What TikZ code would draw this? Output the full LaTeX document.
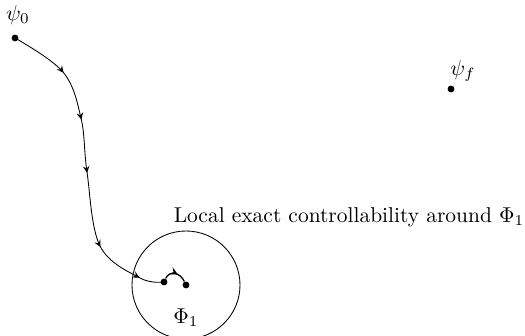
\documentclass[tikz,border=0pt]{standalone}
\usetikzlibrary{decorations.markings}

\begin{document}
\begin{tikzpicture}[x=0.466pt, y=-0.466pt, >=stealth,
    pt/.style={circle, fill, inner sep=0pt, minimum size=3.2pt},
    flow/.style={postaction={decorate}, decoration={markings,
        mark=at position 0.19 with {\arrow{stealth}},
        mark=at position 0.35 with {\arrow{stealth}},
        mark=at position 0.52 with {\arrow{stealth}},
        mark=at position 0.76 with {\arrow{stealth}},
        mark=at position 0.92 with {\arrow{stealth}}}},
    hop/.style={semithick, postaction={decorate}, decoration={markings,
        mark=at position 0.6 with {\arrow{stealth}}}}]
    \useasboundingbox (0,0) rectangle (525,336);
    % Etats
    \node[pt] (psi0) at (15,38) {};
    \node (lpsi0) at (18,15) {$\psi_0$};
    \node[pt] (psif) at (451,89) {};
    \node (lpsif) at (463,71) {$\psi_f$};
    \node[pt] (near) at (164,282) {};
    \node[pt] (phi1) at (186,285) {};
    \node (lphi1) at (186,318) {$\Phi_1$};
    % Voisinage de Phi_1
    \draw (phi1) circle (54);
    \node (txt) at (349,217) {Local exact controllability around $\Phi_1$};
    % Trajectoire
    \draw[flow] plot[smooth, tension=0.6] coordinates
        {(psi0) (63,72) (81,118) (87,172) (100,246) (140,278) (near)};
    \draw[hop] (near) to[out=65, in=115, looseness=1.3] (phi1);
\end{tikzpicture}
\end{document}
